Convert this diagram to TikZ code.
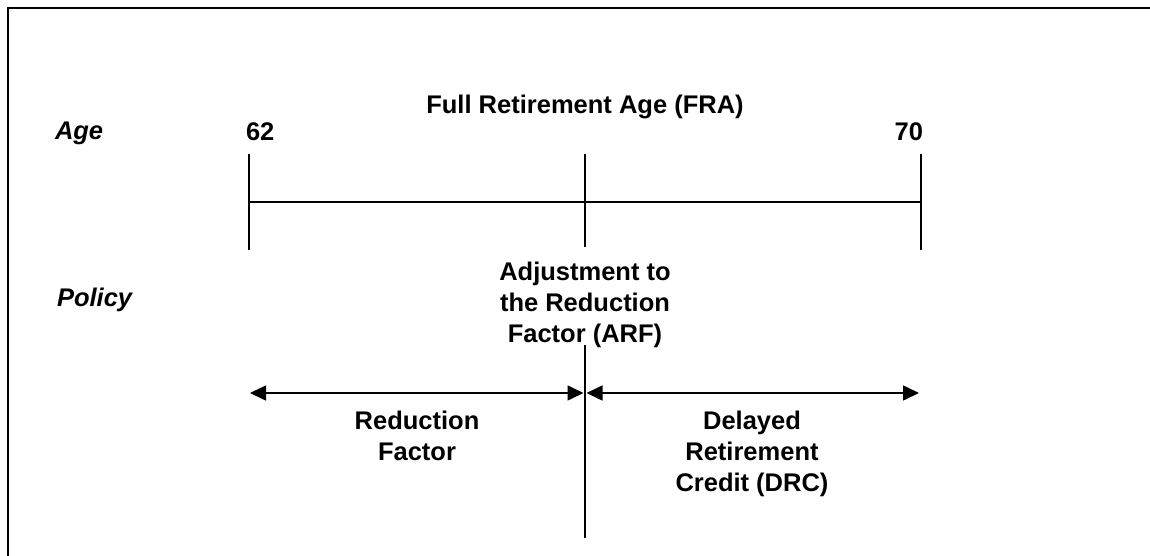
\documentclass[tikz,border=0pt]{standalone}
\usepackage{fontspec}
\setmainfont{Liberation Sans}
\usetikzlibrary{arrows.meta}
\begin{document}
\begin{tikzpicture}[x=1pt,y=-1pt,
  every node/.style={inner sep=0pt, outer sep=0pt},
  lbl/.style={font=\bfseries\fontsize{25.5}{31}\selectfont, align=center},
  axislbl/.style={font=\bfseries\itshape\fontsize{25.5}{31}\selectfont},
  rule/.style={line width=1.6pt},
  frame/.style={line width=2.2pt},
  span/.style={line width=1.6pt, {Triangle[length=16pt,width=15pt]}-{Triangle[length=16pt,width=15pt]}}]
\useasboundingbox (0,0) rectangle (1150,556);
% frame
\coordinate (fbl) at (8,556);
\coordinate (ftl) at (8,8);
\coordinate (ftr) at (1150,8);
\draw[frame] (fbl) -- (ftl) -- (ftr);
% labels
\node[axislbl, anchor=base west] (age) at (55,140) {Age};
\node[axislbl, anchor=base west] (policy) at (57,306) {Policy};
\node[lbl, anchor=base west] (a62) at (246,141) {62};
\node[lbl, anchor=base east] (a70) at (923,141) {70};
\node[lbl, anchor=base] (fra) at (585,114) {Full Retirement Age (FRA)};
% timeline
\coordinate (t62top) at (249,154);
\coordinate (t62bot) at (249,250);
\coordinate (t62mid) at (249,202);
\coordinate (t70top) at (921,154);
\coordinate (t70bot) at (921,250);
\coordinate (t70mid) at (921,202);
\coordinate (tfratop) at (585,154);
\coordinate (tfrabot) at (585,247);
\draw[rule] (t62top) -- (t62bot);
\draw[rule] (t70top) -- (t70bot);
\draw[rule] (t62mid) -- (t70mid);
\draw[rule] (tfratop) -- (tfrabot);
% policy
\node[lbl, anchor=base] (arf) at (585,342) {Adjustment to\\the Reduction\\Factor (ARF)};
\coordinate (vtop) at (585,345);
\coordinate (vbot) at (585,538);
\draw[rule] (vtop) -- (vbot);
\coordinate (rfl) at (250,393);
\coordinate (rfr) at (583.5,393);
\coordinate (drl) at (586.5,393);
\coordinate (drr) at (919,393);
\draw[span] (rfl) -- (rfr);
\draw[span] (drl) -- (drr);
\node[lbl, anchor=base] (rf) at (417,460) {Reduction\\Factor};
\node[lbl, anchor=base] (drc) at (752,491) {Delayed\\Retirement\\Credit (DRC)};
\end{tikzpicture}
\end{document}
